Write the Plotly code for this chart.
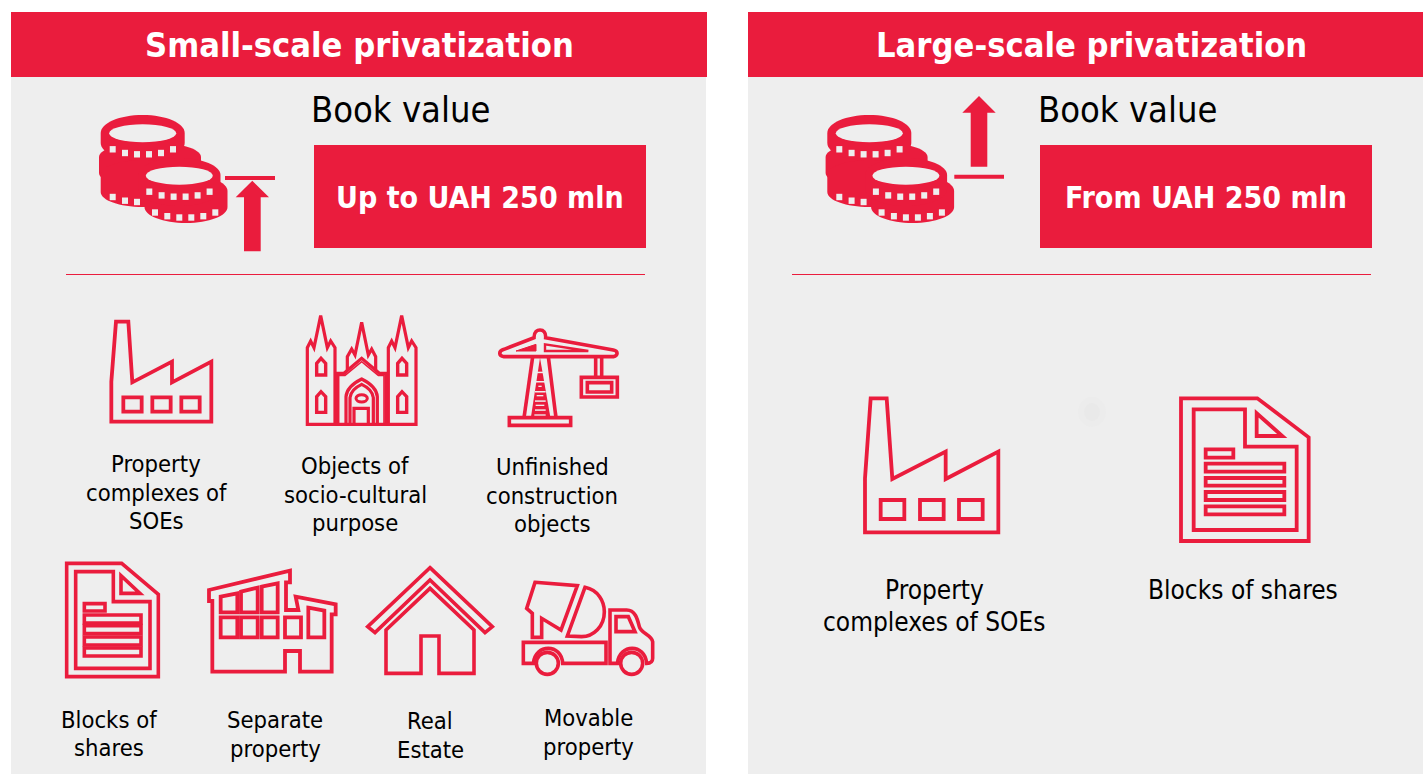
import plotly.graph_objects as go

RED = "#EA1C3D"
BG = "#EEEEEE"
FONT = "DejaVu Sans Condensed, DejaVu Sans, sans-serif"

panel_titles = ["Small-scale privatization", "Large-scale privatization"]
panel_title_x = [359.5, 1091]
book_x = [400.5, 1127.5]
thresholds = ["Up to UAH 250 mln", "From UAH 250 mln"]
threshold_x = [480, 1206]

small_labels = ["Property<br>complexes of<br>SOEs", "Objects of<br>socio-cultural<br>purpose",
                "Unfinished<br>construction<br>objects", "Blocks of<br>shares", "Separate<br>property",
                "Real<br>Estate", "Movable<br>property"]
small_label_x = [156, 355, 552, 109, 275, 430, 588]
small_label_y = [492.5, 494.5, 495.8, 734, 734.5, 735.5, 732.5]
large_labels = ["Property<br>complexes of SOEs", "Blocks of shares"]
large_label_x = [934, 1243]
large_label_y = [606, 590]

shapes = []


def add_path(d, fill=None, lw=3.0, color=RED):
    s = dict(type="path", path=d, xref="x", yref="y", layer="above",
             line=dict(color=color, width=lw) if lw else dict(width=0))
    if fill:
        s["fillcolor"] = fill
    shapes.append(s)


def rect(x0, y0, x1, y1, fill=None, lw=0, color=RED):
    s = dict(type="rect", x0=x0, y0=y0, x1=x1, y1=y1, xref="x", yref="y", layer="above",
             line=dict(color=color, width=lw) if lw else dict(width=0))
    if fill:
        s["fillcolor"] = fill
    shapes.append(s)


def ellipse(cx, cy, rx, ry, fill=None, lw=0, color=RED):
    s = dict(type="circle", x0=cx - rx, y0=cy - ry, x1=cx + rx, y1=cy + ry, xref="x", yref="y", layer="above",
             line=dict(color=color, width=lw) if lw else dict(width=0))
    if fill:
        s["fillcolor"] = fill
    shapes.append(s)


class Icon:
    """Maps zoom-crop coordinates (3x) to page pixels."""
    def __init__(self, ox, oy, lw=3.0):
        self.ox, self.oy, self.lw = ox, oy, lw

    def p(self, x, y):
        return self.ox + x / 3, self.oy + y / 3

    def poly(self, pts, closed=True, fill=None, lw=None, color=RED):
        parts = []
        for i, (x, y) in enumerate(pts):
            px, py = self.p(x, y)
            parts.append(("M" if i == 0 else "L") + f"{px:.2f},{py:.2f}")
        add_path(" ".join(parts) + (" Z" if closed else ""), fill=fill,
                 lw=self.lw if lw is None else lw, color=color)

    def raw(self, segs, closed=True, fill=None, lw=None):
        out = []
        for cmd, *pts in segs:
            c = " ".join("{:.2f},{:.2f}".format(*self.p(*q)) for q in pts)
            out.append(cmd + c)
        add_path(" ".join(out) + (" Z" if closed else ""), fill=fill, lw=self.lw if lw is None else lw)

    def box(self, x0, y0, x1, y1, fill=None, lw=None):
        a, b = self.p(x0, y0)
        c, d = self.p(x1, y1)
        rect(a, b, c, d, fill=fill, lw=self.lw if lw is None else lw)

    def oval(self, cx, cy, rx, ry, fill=None, lw=None):
        a, b = self.p(cx, cy)
        ellipse(a, b, rx / 3, ry / 3, fill=fill, lw=self.lw if lw is None else lw)


def coin_body(cx, top, rx, ry, h):
    k = 0.5523
    y = top + ry
    d = (f"M{cx-rx:.2f},{y:.2f} C{cx-rx:.2f},{y-k*ry:.2f} {cx-k*rx:.2f},{top:.2f} {cx:.2f},{top:.2f} "
         f"C{cx+k*rx:.2f},{top:.2f} {cx+rx:.2f},{y-k*ry:.2f} {cx+rx:.2f},{y:.2f} L{cx+rx:.2f},{y+h:.2f} "
         f"C{cx+rx:.2f},{y+h+k*ry:.2f} {cx+k*rx:.2f},{y+h+ry:.2f} {cx:.2f},{y+h+ry:.2f} "
         f"C{cx-k*rx:.2f},{y+h+ry:.2f} {cx-rx:.2f},{y+h+k*ry:.2f} {cx-rx:.2f},{y+h:.2f} Z")
    add_path(d, fill=RED, lw=0)


TOOTH_DX = [-30, -17.7, -5.7, 6.3, 18.3, 30.3]
TOOTH_DY = [16, 19.7, 21, 21, 19.7, 16]


def teeth(cx, cy, idx=range(6)):
    for i in idx:
        x, y = cx + TOOTH_DX[i], cy + TOOTH_DY[i]
        rect(x - 3, y - 3.2, x + 3, y + 3.2, fill=BG)


def coins(dx):
    coin_body(150 + dx, 142, 51, 15, 16)
    teeth(149 + dx, 162, [0, 1])
    coin_body(142.7 + dx, 160, 42, 15, 17)
    coin_body(142.7 + dx, 115, 42, 18, 10)
    teeth(142.7 + dx, 181, [0, 1, 2])
    teeth(142.7 + dx, 133.3)
    ellipse(142.7 + dx, 133.3, 33.5, 9, fill=BG)
    coin_body(186 + dx, 175, 41.5, 16, 16)
    coin_body(179.5 + dx, 158, 41, 17, 14)
    teeth(185 + dx, 196.5)
    teeth(179.3 + dx, 175.7)
    ellipse(179.3 + dx, 175.7, 33.5, 9, fill=BG)


def factory(ic):
    ic.poly(FACT_OUTLINE[ic.key])
    for w in FACT_WINDOWS[ic.key]:
        ic.box(*w)


FACT_OUTLINE = {
    "s": [(78, 50), (115, 50), (127, 232), (246, 170), (246, 232), (364, 170), (364, 350), (64, 350), (64, 230)],
    "l": [(62, 40), (110, 40), (127, 282), (287, 200), (287, 282), (445, 200), (445, 442), (45, 442), (45, 280)],
}
FACT_WINDOWS = {
    "s": [(100, 277, 155, 320), (187, 277, 242, 320), (274, 277, 329, 320)],
    "l": [(92, 345, 163, 402), (210, 345, 281, 402), (327, 345, 398, 402)],
}


def document(ic, outer, inner, tri, small, bars):
    ic.poly(outer)
    ic.poly(inner)
    ic.poly(tri)
    ic.box(*small)
    for b in bars:
        ic.box(*b)


# ---------- Panels ----------
rect(11, 77, 706, 774, fill=BG)
rect(748, 77, 1423, 774, fill=BG)
rect(11, 12, 707, 77, fill=RED)
rect(748, 12, 1423, 77, fill=RED)
rect(314, 145, 646, 248, fill=RED)
rect(1040, 145, 1372, 248, fill=RED)
rect(66, 274, 645, 275, fill=RED)
rect(792, 274, 1371, 275, fill=RED)

# ---------- Coins and arrows ----------
coins(0)
coins(726.6)
rect(225, 176, 275, 180, fill=RED)
add_path("M252.3,180.7 L269,197.3 L260.7,197.3 L260.7,251.3 L244,251.3 L244,197.3 L235.7,197.3 Z", fill=RED, lw=0)
rect(954.3, 174.7, 1004, 178.7, fill=RED)
add_path("M979,96 L995.7,112.7 L987.3,112.7 L987.3,166.7 L970.7,166.7 L970.7,112.7 L962.3,112.7 Z", fill=RED, lw=0)

# ---------- Factories ----------
ic = Icon(90, 305, 3.8); ic.key = "s"; factory(ic)
ic = Icon(850, 385, 3.8); ic.key = "l"; factory(ic)

# ---------- Church ----------
ch = Icon(90, 305, 3.2)
for dx in (0, 243):
    ch.poly([(652 + dx, 358), (652 + dx, 128), (662 + dx, 108), (672 + dx, 128), (692 + dx, 32), (712 + dx, 128),
             (722 + dx, 108), (735 + dx, 128), (735 + dx, 358)])
    ch.poly([(680 + dx, 210), (680 + dx, 175), (693 + dx, 160), (707 + dx, 175), (707 + dx, 210)], lw=3.4)
    ch.poly([(680 + dx, 322), (680 + dx, 275), (693 + dx, 260), (707 + dx, 275), (707 + dx, 322)], lw=3.4)
ch.poly([(772, 195), (772, 155), (785, 132), (795, 150), (815, 52), (835, 150), (845, 132), (857, 155), (857, 195)], closed=False)
ch.poly([(740, 358), (740, 205), (762, 205), (815, 160), (868, 205), (888, 205), (888, 358)])
ch.poly([(746, 358), (746, 211), (765, 211), (815, 170), (865, 211), (882, 211), (882, 358)], closed=False, lw=1.6)
ch.raw([("M", (768, 358)), ("L", (768, 275)), ("C", (770, 250), (795, 232), (815, 222)),
        ("C", (835, 232), (860, 250), (862, 275)), ("L", (862, 358))], closed=False)
ch.raw([("M", (780, 358)), ("L", (780, 278)), ("C", (782, 258), (800, 245), (815, 238)),
        ("C", (830, 245), (848, 258), (850, 278)), ("L", (850, 358))], closed=False)
ch.poly([(792, 358), (792, 310), (835, 310), (835, 358)], closed=False)
ch.oval(815, 280, 17, 11, lw=3)

# ---------- Crane ----------
cr = Icon(480, 315, 3.6)
cr.raw([("M", (72, 125)), ("C", (55, 122), (55, 108), (72, 103)), ("L", (162, 68)),
        ("C", (162, 50), (172, 45), (180, 45)), ("C", (190, 45), (198, 52), (197, 68)), ("L", (400, 105)),
        ("C", (415, 108), (415, 122), (400, 125))])
cr.poly([(108, 108), (168, 88), (168, 108)], fill=RED, lw=1)
cr.poly([(195, 88), (195, 108), (325, 108)], lw=2.4)
cr.poly([(158, 125), (132, 308)], closed=False)
cr.poly([(205, 125), (228, 308)], closed=False)
cr.box(88, 308, 272, 331)
cr.poly([(180, 128), (212, 312), (152, 312)], fill=RED, lw=0)
for y in (172, 200, 230, 258, 285):
    a, b = cr.p(165, y - 2)
    c, d = cr.p(197, y + 2.5)
    rect(a, b, c, d, fill=BG)
for y, hw in ((214, 5), (242, 10), (271, 13), (300, 17)):
    a, b = cr.p(180 - hw, y - 2)
    c, d = cr.p(180 + hw, y + 2)
    rect(a, b, c, d, fill=BG)
cr.poly([(347, 125), (347, 188)], closed=False)
cr.poly([(365, 125), (365, 188)], closed=False)
cr.box(304, 187, 412, 246, lw=3.6)
cr.box(322, 203, 395, 231, lw=3.6)

# ---------- Documents ----------
document(Icon(55, 555, 3.6),
         [(35, 25), (200, 25), (310, 118), (310, 365), (35, 365)],
         [(62, 50), (175, 50), (175, 140), (285, 140), (285, 340), (62, 340)],
         [(198, 62), (198, 115), (255, 115)],
         (88, 146, 150, 168),
         [(88, 180, 258, 204), (88, 212, 258, 236), (88, 246, 258, 270), (88, 279, 258, 303)])
document(Icon(850, 385, 3.8),
         [(993, 40), (1222, 40), (1376, 157), (1376, 468), (993, 468)],
         [(1031, 73), (1185, 73), (1185, 185), (1340, 185), (1340, 435), (1031, 435)],
         [(1220, 85), (1220, 153), (1297, 153)],
         (1067, 193, 1150, 218),
         [(1067, 236, 1303, 260), (1067, 279, 1303, 302), (1067, 321, 1303, 345), (1067, 364, 1303, 388)])

# ---------- Building ----------
bd = Icon(55, 555, 3.8)
bd.poly([(462, 105), (705, 47), (705, 82), (693, 82), (693, 165), (730, 165), (722, 125), (842, 148), (842, 178),
         (830, 178), (830, 350), (735, 350), (735, 288), (690, 288), (690, 350), (472, 350), (472, 138), (462, 138)])
bd.poly([(497, 125), (547, 115), (547, 172), (497, 172)])
bd.poly([(558, 110), (608, 98), (608, 172), (558, 172)])
bd.poly([(620, 95), (668, 85), (668, 172), (620, 172)])
for x0, x1 in ((497, 547), (558, 608), (620, 668), (690, 738)):
    bd.box(x0, 187, x1, 247)
bd.poly([(760, 158), (808, 167), (808, 247), (760, 247)])

# ---------- House ----------
hs = Icon(360, 555, 3.6)
hs.poly([(210, 38), (397, 215), (375, 233), (210, 75), (45, 233), (23, 215)])
hs.poly([(78, 225), (210, 100), (342, 225), (342, 355), (237, 355), (237, 243), (183, 243), (183, 355), (78, 355)])

# ---------- Truck ----------
tr = Icon(360, 555, 3.6)
tr.poly([(525, 82), (652, 92), (603, 225), (545, 190), (545, 247), (517, 247), (517, 175), (500, 160)])
tr.raw([("M", (675, 97)), ("C", (715, 105), (733, 140), (733, 170)), ("C", (733, 215), (700, 245), (665, 245)),
        ("L", (622, 243))])
tr.raw([("M", (490, 262)), ("L", (738, 262)), ("L", (738, 325)), ("L", (608, 325)),
        ("C", (605, 265), (525, 265), (520, 325)), ("L", (490, 325))])
tr.raw([("M", (750, 325)), ("L", (750, 165)), ("L", (800, 165)), ("C", (825, 165), (832, 190), (838, 215)),
        ("C", (842, 235), (875, 240), (878, 260)), ("L", (878, 310)), ("C", (878, 322), (870, 325), (860, 325)),
        ("C", (855, 265), (778, 265), (772, 325))])
tr.poly([(768, 185), (805, 185), (825, 230), (768, 230)])
tr.oval(562, 325, 33, 33)
tr.oval(815, 325, 33, 33)

# ---------- Faint smudge in right panel ----------
ellipse(1092, 412, 14, 15, fill="#ECECEC")
ellipse(1092, 412, 8, 9, fill="#E9E9E9")

# ---------- Text ----------
annotations = []


def text(x, y, t, size, color="black", bold=False):
    s = f"<b>{t}</b>" if bold else t
    annotations.append(dict(x=x, y=y, xref="x", yref="y", text=s, showarrow=False, xanchor="center", yanchor="middle",
                            align="center", font=dict(family=FONT, size=size, color=color)))


def block(x, y, t, size, spacing):
    lines = t.split("<br>")
    for i, ln in enumerate(lines):
        text(x, y + (i - (len(lines) - 1) / 2) * spacing, ln, size)


for x, t in zip(panel_title_x, panel_titles):
    text(x, 45, t, 34.2, "white", True)
for x in book_x:
    text(x, 109, "Book value", 36)
for x, t in zip(threshold_x, thresholds):
    text(x, 197, t, 30, "white", True)
for x, y, t in zip(small_label_x, small_label_y, small_labels):
    block(x, y, t, 23.6, 28.5)
for x, y, t in zip(large_label_x, large_label_y, large_labels):
    block(x, y, t, 26, 32)

fig = go.Figure()
fig.update_layout(
    width=1423, height=774, margin=dict(l=0, r=0, t=0, b=0), autosize=False,
    paper_bgcolor="white", plot_bgcolor="white", showlegend=False,
    xaxis=dict(range=[0, 1423], visible=False, fixedrange=True),
    yaxis=dict(range=[774, 0], visible=False, fixedrange=True),
    shapes=shapes, annotations=annotations,
)
fig.write_html("out.html", config=dict(displayModeBar=False),
               post_script="document.body.style.margin='0';document.body.style.overflow='hidden';")
